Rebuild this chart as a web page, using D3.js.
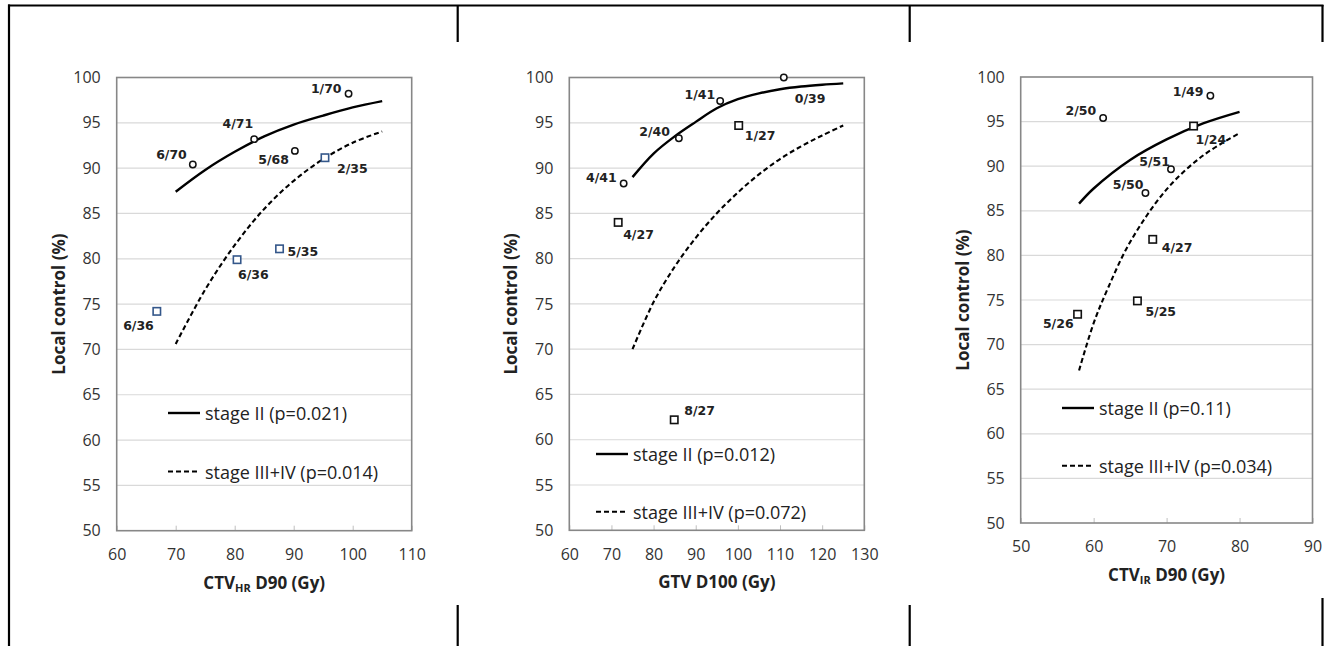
<!DOCTYPE html>
<html>
<head>
<meta charset="utf-8">
<script src="https://cdn.jsdelivr.net/npm/d3@7"></script>
<style>
  body { margin: 0; background: #fff; }
  svg { display: block; }
</style>
</head>
<body>
<div id="chart"></div>
<script>
// ---- Data ----
// y axis is the same on all three panels
const yTicks = [50, 55, 60, 65, 70, 75, 80, 85, 90, 95, 100];

// Panel 1: CTV_HR D90
const ctvhrTicks = [60, 70, 80, 90, 100, 110];
const ctvhrStage2 = [[72.9, 90.4, "6/70"], [83.3, 93.2, "4/71"], [90.2, 91.9, "5/68"], [99.3, 98.2, "1/70"]];
const ctvhrStage34 = [[95.3, 91.15, "2/35"], [87.6, 81.1, "5/35"], [80.4, 79.9, "6/36"], [66.8, 74.2, "6/36"]];
const ctvhrFit2 = [[70, 87.4], [75, 89.8], [80, 91.8], [85, 93.5], [90, 94.8], [95, 95.8], [100, 96.7], [105, 97.4]];
const ctvhrFit34 = [[70, 70.6], [75, 76.6], [80, 81.5], [85, 85.5], [90, 88.6], [95, 91.0], [100, 92.8], [105, 94.05]];
const ctvhrLegend = ["stage II (p=0.021)", "stage III+IV (p=0.014)"];

// Panel 2: GTV D100
const gtvTicks = [60, 70, 80, 90, 100, 110, 120, 130];
const gtvStage2 = [[110.9, 100, "0/39"], [95.8, 97.4, "1/41"], [86.0, 93.3, "2/40"], [72.9, 88.3, "4/41"]];
const gtvStage34 = [[100.2, 94.7, "1/27"], [71.6, 84.0, "4/27"], [84.9, 62.2, "8/27"]];
const gtvFit2 = [[75, 89.0], [80, 91.6], [85, 93.5], [90, 95.1], [95, 96.6], [100, 97.6], [105, 98.25], [110, 98.7], [115, 99.0], [120, 99.2], [125, 99.35]];
const gtvFit34 = [[75, 70.0], [80, 75.2], [85, 79.1], [90, 82.3], [95, 85.0], [100, 87.3], [105, 89.3], [110, 91.0], [115, 92.4], [120, 93.6], [125, 94.7]];
const gtvLegend = ["stage II (p=0.012)", "stage III+IV (p=0.072)"];

// Panel 3: CTV_IR D90
const ctvirTicks = [50, 60, 70, 80, 90];
const ctvirStage2 = [[61.3, 95.4, "2/50"], [76.0, 97.9, "1/49"], [70.6, 89.65, "5/51"], [67.1, 87.0, "5/50"]];
const ctvirStage34 = [[73.7, 94.5, "1/24"], [68.1, 81.8, "4/27"], [66.0, 74.9, "5/25"], [57.8, 73.4, "5/26"]];
const ctvirFit2 = [[58, 85.8], [60, 87.5], [65, 90.7], [70, 93.0], [75, 94.8], [80, 96.1]];
const ctvirFit34 = [[58, 67.1], [60, 72.4], [62, 76.4], [65, 81.5], [70, 87.4], [75, 91.2], [80, 93.7]];
const ctvirLegend = ["stage II (p=0.11)", "stage III+IV (p=0.034)"];

// ---- Layout (label placement: [anchor, dx, dy] in px from the marker) ----
const ctvhrPlace2 = [["end", -6, -10], ["end", -1, -16], ["end", -6, 9], ["end", -7, -5]];
const ctvhrPlace34 = [["start", 12, 11], ["start", 8, 3], ["start", 1, 15], ["end", -3, 14]];
const gtvPlace2 = [["start", 11, 21], ["end", -5, -7], ["end", -9, -7], ["end", -7, -6]];
const gtvPlace34 = [["start", 6, 10], ["start", 5, 12], ["start", 10, -9]];
const ctvirPlace2 = [["end", -7, -8], ["end", -7, -4], ["end", -1, -8], ["end", -2, -8]];
const ctvirPlace34 = [["start", 2, 13], ["start", 9, 8], ["start", 8, 11], ["end", -4, 9]];

const panels = [
  { box: { left: 116.7, top: 77.5, right: 411.7, bottom: 530.7 },
    xDomain: [60, 110], xTicks: ctvhrTicks, title: ["CTV", "HR", " D90 (Gy)"],
    s2: ctvhrStage2, s34: ctvhrStage34, p2: ctvhrPlace2, p34: ctvhrPlace34,
    fit2: ctvhrFit2, fit34: ctvhrFit34, legend: ctvhrLegend,
    legendPos: { x: 168, y: 413, gap: 58.5 }, squareColor: "#34578a" },
  { box: { left: 569.3, top: 77.5, right: 864.3, bottom: 530.3 },
    xDomain: [60, 130], xTicks: gtvTicks, title: ["GTV D100 (Gy)"],
    s2: gtvStage2, s34: gtvStage34, p2: gtvPlace2, p34: gtvPlace34,
    fit2: gtvFit2, fit34: gtvFit34, legend: gtvLegend,
    legendPos: { x: 596, y: 454, gap: 57.7 }, squareColor: "#111" },
  { box: { left: 1020.7, top: 77, right: 1312.5, bottom: 523 },
    xDomain: [50, 90], xTicks: ctvirTicks, title: ["CTV", "IR", " D90 (Gy)"],
    s2: ctvirStage2, s34: ctvirStage34, p2: ctvirPlace2, p34: ctvirPlace34,
    fit2: ctvirFit2, fit34: ctvirFit34, legend: ctvirLegend,
    legendPos: { x: 1062, y: 408, gap: 57.7 }, squareColor: "#111" }
];

const svgWidth = 1326, svgHeight = 646;
const svg = d3.select("#chart").append("svg")
  .attr("width", svgWidth)
  .attr("height", svgHeight);

// Outer table frame (only the parts that show around the pictures)
const frame = svg.append("g").attr("stroke", "#000").attr("stroke-width", 2.2);
frame.append("line").attr("x1", 8).attr("x2", 1323.5).attr("y1", 5.5).attr("y2", 5.5);
frame.append("line").attr("x1", 9).attr("x2", 9).attr("y1", 4.5).attr("y2", 646);
[457.7, 909.7].forEach(x => {
  frame.append("line").attr("x1", x).attr("x2", x).attr("y1", 5).attr("y2", 42);
  frame.append("line").attr("x1", x).attr("x2", x).attr("y1", 605).attr("y2", 646);
});
frame.append("line").attr("x1", 1322.5).attr("x2", 1322.5).attr("y1", 5).attr("y2", 42);
frame.append("line").attr("x1", 1322.5).attr("x2", 1322.5).attr("y1", 598).attr("y2", 646);

const tickFont = "'Open Sans', sans-serif";

panels.forEach(p => {
  const b = p.box;
  const x = d3.scaleLinear().domain(p.xDomain).range([b.left, b.right]);
  const y = d3.scaleLinear().domain([50, 100]).range([b.bottom, b.top]);
  const g = svg.append("g");

  // gridlines
  g.append("g").selectAll("line")
    .data(yTicks.slice(1, -1))
    .enter().append("line")
    .attr("x1", b.left).attr("x2", b.right)
    .attr("y1", d => y(d)).attr("y2", d => y(d))
    .attr("stroke", "#d9d9d9").attr("stroke-width", 1.2);

  // axes
  const xAxis = g.append("g")
    .attr("transform", `translate(0,${b.bottom})`)
    .call(d3.axisBottom(x).tickValues(p.xTicks).tickSizeInner(-5).tickSizeOuter(0).tickPadding(18));
  const yAxis = g.append("g")
    .attr("transform", `translate(${b.left},0)`)
    .call(d3.axisLeft(y).tickValues(yTicks).tickSize(0).tickPadding(16));
  [xAxis, yAxis].forEach(a => {
    a.select(".domain").remove();
    a.selectAll("line").attr("stroke", "#bfbfbf");
    a.selectAll("text").attr("font-family", tickFont).attr("font-size", 16).attr("fill", "#333");
  });

  // plot border
  g.append("rect")
    .attr("x", b.left).attr("y", b.top)
    .attr("width", b.right - b.left).attr("height", b.bottom - b.top)
    .attr("fill", "none").attr("stroke", "#878787").attr("stroke-width", 1.6);

  // fitted curves
  const line = d3.line().x(d => x(d[0])).y(d => y(d[1])).curve(d3.curveCatmullRom.alpha(0.5));
  g.append("path").datum(p.fit2).attr("d", line)
    .attr("fill", "none").attr("stroke", "#000").attr("stroke-width", 2.4);
  g.append("path").datum(p.fit34).attr("d", line)
    .attr("fill", "none").attr("stroke", "#000").attr("stroke-width", 2.1)
    .attr("stroke-dasharray", "5,3");

  // markers
  g.append("g").selectAll("circle")
    .data(p.s2).enter().append("circle")
    .attr("cx", d => x(d[0])).attr("cy", d => y(d[1]))
    .attr("r", 3.2).attr("fill", "#fff").attr("stroke", "#111").attr("stroke-width", 1.5);
  g.append("g").selectAll("rect")
    .data(p.s34).enter().append("rect")
    .attr("x", d => x(d[0]) - 3.7).attr("y", d => y(d[1]) - 3.7)
    .attr("width", 7.4).attr("height", 7.4)
    .attr("fill", "#fff").attr("stroke", p.squareColor).attr("stroke-width", 1.6);

  // point labels
  const labels = p.s2.map((d, i) => [d, p.p2[i]]).concat(p.s34.map((d, i) => [d, p.p34[i]]));
  g.append("g").selectAll("text")
    .data(labels).enter().append("text")
    .attr("x", d => x(d[0][0]) + d[1][1])
    .attr("y", d => y(d[0][1]) + d[1][2])
    .attr("text-anchor", d => d[1][0])
    .attr("dominant-baseline", "central")
    .attr("font-family", "'DejaVu Sans', sans-serif")
    .attr("font-weight", "bold")
    .attr("font-size", 12.5)
    .attr("fill", "#222")
    .text(d => d[0][2]);

  // legend
  const lg = g.append("g");
  p.legend.forEach((txt, i) => {
    const ly = p.legendPos.y + i * p.legendPos.gap;
    lg.append("line")
      .attr("x1", p.legendPos.x).attr("x2", p.legendPos.x + 32)
      .attr("y1", ly).attr("y2", ly)
      .attr("stroke", "#000").attr("stroke-width", i ? 2.1 : 2.4)
      .attr("stroke-dasharray", i ? "5,3" : null);
    lg.append("text")
      .attr("x", p.legendPos.x + 37).attr("y", ly)
      .attr("dominant-baseline", "central")
      .attr("font-family", tickFont).attr("font-size", 18).attr("fill", "#222")
      .text(txt);
  });

  // axis titles
  const cx = (b.left + b.right) / 2;
  const xt = g.append("text")
    .attr("x", cx).attr("y", b.bottom + 51)
    .attr("text-anchor", "middle").attr("dominant-baseline", "central")
    .attr("font-family", tickFont).attr("font-weight", "bold").attr("font-size", 17).attr("fill", "#222");
  if (p.title.length === 3) {
    xt.append("tspan").text(p.title[0]);
    xt.append("tspan").attr("font-size", 11).attr("dy", 5).text(p.title[1]);
    xt.append("tspan").attr("dy", -5).text(p.title[2]);
  } else {
    xt.text(p.title[0]);
  }

  g.append("text")
    .attr("transform", `translate(${b.left - 58.5},${(b.top + b.bottom) / 2}) rotate(-90)`)
    .attr("text-anchor", "middle").attr("dominant-baseline", "central")
    .attr("font-family", tickFont).attr("font-weight", "bold").attr("font-size", 17).attr("fill", "#222")
    .text("Local control (%)");
});
</script>
</body>
</html>
